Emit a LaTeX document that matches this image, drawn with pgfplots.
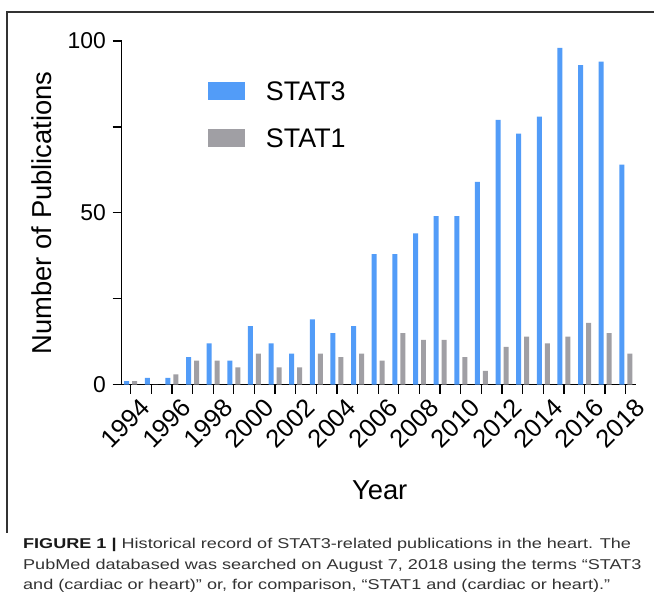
\documentclass[border=0pt]{standalone}
\usepackage{fontspec}
\setmainfont{Liberation Sans}
\newfontfamily\capfont[FakeStretch=1.27]{Liberation Sans}
\usepackage{pgfplots}
\pgfplotsset{compat=1.18}
\definecolor{statblue}{RGB}{82,156,248}
\definecolor{statgray}{RGB}{160,159,164}
\pgfplotstableread{
year stat3 stat1
1994 1 1
1995 2 0
1996 2 3
1997 8 7
1998 12 7
1999 7 5
2000 17 9
2001 12 5
2002 9 5
2003 19 9
2004 15 8
2005 17 9
2006 38 7
2007 38 15
2008 44 13
2009 49 13
2010 49 8
2011 59 4
2012 77 11
2013 73 14
2014 78 12
2015 98 14
2016 93 18
2017 94 15
2018 64 9
}\datatable
\begin{document}
\begin{tikzpicture}[x=1bp,y=1bp]
\path[fill=white] (0,0) rectangle (655,612);
\draw[black!80, line width=1.2bp] (7,79) -- (7,600) -- (655,600);
\begin{axis}[
  at={(121.7bp,227bp)}, anchor=south west,
  scale only axis, width=515bp, height=344bp,
  xmin=1993.56, xmax=2018.5, ymin=0, ymax=100,
  axis lines=left,
  axis line style={-, line width=1.3bp, black},
  every tick/.style={black, line width=1.3bp},
  tick align=outside,
  major tick length=9bp, minor tick length=9bp,
  xtick={1994,...,2018},
  xticklabels={1994,,1996,,1998,,2000,,2002,,2004,,2006,,2008,,2010,,2012,,2014,,2016,,2018},
  ytick={0,50,100}, minor ytick={25,75},
  /pgf/number format/assume math mode=true,
  yticklabel style={font=\fontsize{23}{23}\selectfont, anchor=east, inner sep=0pt, xshift=-6.5bp},
  xticklabel style={font=\fontsize{25.5}{25.5}\selectfont, rotate=45, anchor=north east, inner sep=0pt, yshift=-8bp, xshift=4bp},
  ybar=3bp, bar width=5bp,
  xlabel={Year}, ylabel={Number of Publications},
  every axis x label/.style={at={(axis description cs:0.5016,-0.3343)}, anchor=base, font=\fontsize{27.5}{27.5}\selectfont},
  every axis y label/.style={at={(axis description cs:-0.1353,0.5)}, rotate=90, anchor=south, inner sep=0pt, font=\fontsize{27.5}{27.5}\selectfont},
  legend image code/.code={\fill[#1] (0bp,-9bp) rectangle (37bp,9bp);},
  legend style={at={(axis description cs:0.1676,0.7856)}, anchor=west, draw=none, fill=none, inner sep=0pt,
    font=\fontsize{27}{27}\selectfont, row sep=28bp, column sep=0bp,
    nodes={inner sep=0pt, anchor=west, text depth=0pt},
    /tikz/every odd column/.style={column sep=21bp}},
  legend cell align=left,
  clip=false,
]
\addplot[draw=none, fill=statblue] table[x=year, y=stat3] {\datatable};
\addplot[draw=none, fill=statgray] table[x=year, y=stat1] {\datatable};
\legend{STAT3, STAT1}
\end{axis}
\node[anchor=base west, align=left, inner sep=0pt, text=black!80,
  font=\capfont\fontsize{14.3}{20.5}\selectfont] at (23,21.7)
  {\textbf{\color{black!90}FIGURE 1 |} Historical record of STAT3-related publications in the heart. The\\
   PubMed databased was searched on August 7, 2018 using the terms “STAT3\\
   and (cardiac or heart)” or, for comparison, “STAT1 and (cardiac or heart).”};
\end{tikzpicture}
\end{document}
